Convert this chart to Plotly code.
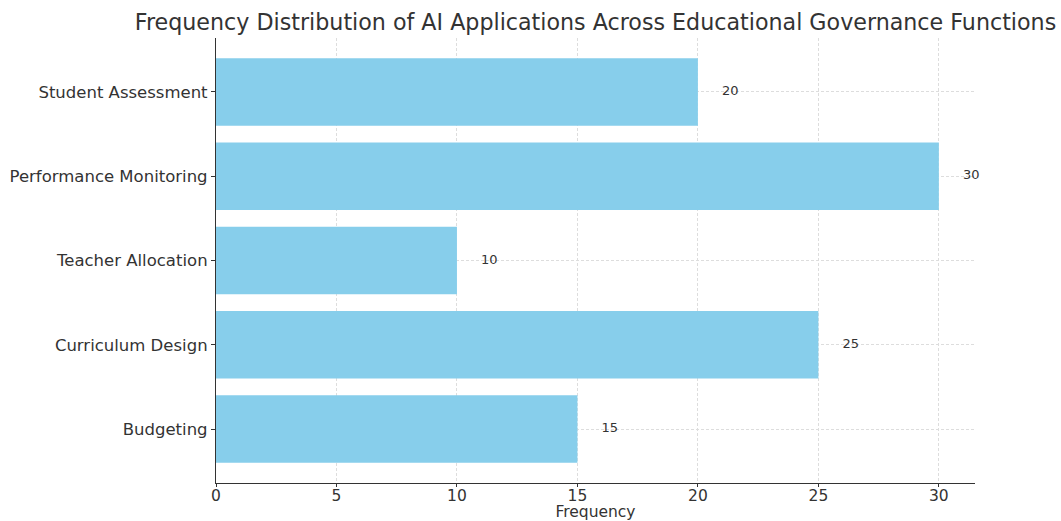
import plotly.graph_objects as go

categories = ["Budgeting", "Curriculum Design", "Teacher Allocation", "Performance Monitoring", "Student Assessment"]
frequencies = [15, 25, 10, 30, 20]
x_ticks = [0, 5, 10, 15, 20, 25, 30]

label_offset = 1

fig = go.Figure()
fig.add_trace(go.Bar(
    y=categories, x=frequencies, orientation="h",
    marker=dict(color="#87CEEB", line=dict(width=0)),
    width=0.8, showlegend=False, hoverinfo="x+y",
))
fig.add_trace(go.Scatter(
    y=categories, x=[v + label_offset for v in frequencies],
    mode="text", text=[str(v) for v in frequencies],
    textposition="middle right",
    textfont=dict(family="DejaVu Sans", size=13, color="#333333"),
    showlegend=False, hoverinfo="skip", cliponaxis=False,
))

fig.update_layout(
    width=1061, height=521,
    margin=dict(l=216, r=86, t=38, b=38),
    paper_bgcolor="white", plot_bgcolor="white",
    font=dict(family="DejaVu Sans", color="#333333"),
    title=dict(
        text="Frequency Distribution of AI Applications Across Educational Governance Functions",
        x=(216 + 975) / 2 / 1061, xanchor="center", y=0.957, yanchor="middle",
        font=dict(family="DejaVu Sans", size=22.2, color="#333333"),
    ),
    bargap=0.2,
)
fig.update_xaxes(
    range=[0, 31.5], tickvals=x_ticks, ticktext=[str(t) for t in x_ticks],
    showgrid=True, gridcolor="#dddddd", griddash="3px,2px", gridwidth=1,
    showline=True, linecolor="#333333", linewidth=1.2,
    ticks="outside", ticklen=3, tickcolor="#333333",
    ticklabelstandoff=-5,
    tickfont=dict(size=15.5, color="#333333"),
    title=dict(text="Frequency", font=dict(size=15.5, color="#333333"), standoff=3),
    zeroline=False, mirror=False, automargin=False,
)
fig.update_yaxes(
    range=[-0.64, 4.64],
    showgrid=True, gridcolor="#dddddd", griddash="3px,2px", gridwidth=1,
    showline=True, linecolor="#333333", linewidth=1.2,
    ticks="outside", ticklen=4, tickcolor="#333333",
    tickfont=dict(size=16.5, color="#333333"),
    zeroline=False, automargin=False,
)

fig.write_html("out.html")
